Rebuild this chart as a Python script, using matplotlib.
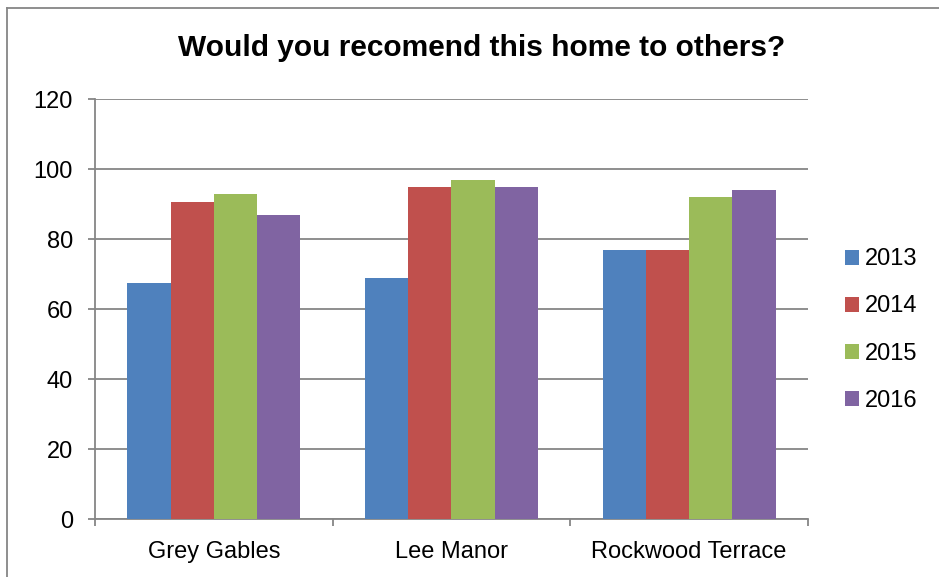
import numpy as np
import matplotlib.pyplot as plt
from matplotlib.lines import Line2D

homes = ['Grey Gables', 'Lee Manor', 'Rockwood Terrace']
years = ['2013', '2014', '2015', '2016']
values_2013 = [67.3, 68.9, 76.9]
values_2014 = [90.6, 94.8, 76.9]
values_2015 = [92.9, 96.9, 91.9]
values_2016 = [87.0, 94.9, 94.0]
y_ticks = [0, 20, 40, 60, 80, 100, 120]

colors = ['#4F81BD', '#C0504D', '#9BBB59', '#8064A2']
grid_grey = '#868686'

plt.rcParams['font.family'] = ['Liberation Sans', 'DejaVu Sans']

fig = plt.figure(figsize=(9.39, 5.77), dpi=100)
ax = fig.add_axes([95 / 939, 58 / 577, 713 / 939, 420 / 577])

series = [values_2013, values_2014, values_2015, values_2016]
x = np.arange(len(homes))
width = 1 / 5.5
for i, (vals, year) in enumerate(zip(series, years)):
    offset = (i - 1.5) * width
    ax.bar(x + offset, vals, width, color=colors[i], label=year, zorder=3)

ax.set_xlim(-0.5, len(homes) - 0.5)
ax.set_ylim(0, 120)
ax.set_yticks(y_ticks)
ax.set_xticks(x)
ax.set_xticklabels(homes)
ax.set_xticks(np.arange(len(homes) + 1) - 0.5, minor=True)

ax.yaxis.grid(True, color=grid_grey, linewidth=1.3, zorder=0)
ax.set_axisbelow(True)
for side in ['top', 'right']:
    ax.spines[side].set_visible(False)
for side in ['left', 'bottom']:
    ax.spines[side].set_color(grid_grey)
    ax.spines[side].set_linewidth(1.3)

ax.tick_params(axis='y', length=5, width=1.3, color=grid_grey, pad=11, labelsize=17)
ax.tick_params(axis='x', which='major', length=0, pad=16, labelsize=17)
ax.tick_params(axis='x', which='minor', length=5, width=1.3, color=grid_grey)

fig.text(482 / 939, 1 - 48 / 577, 'Would you recomend this home to others?',
         ha='center', va='center', fontsize=21.5, fontweight='bold')

fig.legend(loc='center left', bbox_to_anchor=(824 / 939, 1 - 330 / 577),
           frameon=False, fontsize=17, handlelength=0.6, handleheight=0.6,
           handletextpad=0.25, labelspacing=1.06)

# outer chart border
fig.add_artist(Line2D([7 / 939, 7 / 939], [0, 1 - 8 / 577], color=grid_grey, linewidth=1.3))
fig.add_artist(Line2D([7 / 939, 1], [1 - 8 / 577, 1 - 8 / 577], color=grid_grey, linewidth=1.3))

fig.savefig('out.png', dpi=100)
